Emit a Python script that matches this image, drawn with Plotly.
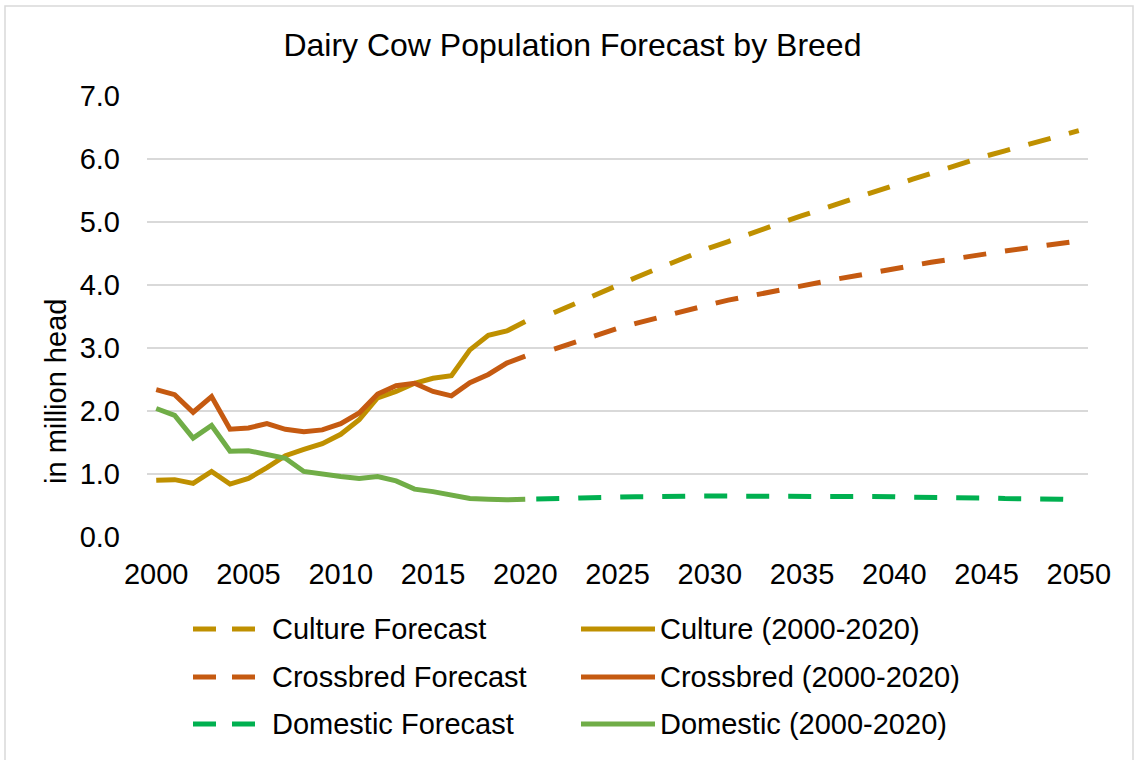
import plotly.graph_objects as go

# ---- data (million head) ----
hist_years = list(range(2000, 2021))
culture_hist = [0.90, 0.91, 0.85, 1.04, 0.84, 0.93, 1.10, 1.29, 1.39, 1.48, 1.63,
                1.86, 2.21, 2.31, 2.44, 2.52, 2.56, 2.97, 3.20, 3.27, 3.42]
crossbred_hist = [2.34, 2.26, 1.98, 2.23, 1.71, 1.73, 1.80, 1.71, 1.67, 1.70, 1.80,
                  1.97, 2.27, 2.40, 2.44, 2.31, 2.24, 2.45, 2.58, 2.76, 2.87]
domestic_hist = [2.04, 1.93, 1.57, 1.77, 1.36, 1.37, 1.31, 1.25, 1.04, 0.99, 0.96,
                 0.93, 0.96, 0.89, 0.76, 0.72, 0.66, 0.61, 0.60, 0.59, 0.60]

fc_years = list(range(2021, 2051))
culture_fc = [3.49, 3.62, 3.75, 3.88, 4.00, 4.12, 4.24, 4.36, 4.48, 4.59,
              4.69, 4.80, 4.90, 5.00, 5.10, 5.20, 5.30, 5.39, 5.49, 5.58,
              5.68, 5.77, 5.87, 5.96, 6.05, 6.13, 6.21, 6.29, 6.37, 6.45]
crossbred_fc = [2.93, 3.03, 3.12, 3.22, 3.31, 3.39, 3.47, 3.55, 3.62, 3.69,
                3.76, 3.82, 3.88, 3.93, 3.99, 4.05, 4.10, 4.15, 4.21, 4.26,
                4.31, 4.36, 4.41, 4.46, 4.50, 4.54, 4.58, 4.62, 4.66, 4.70]
domestic_fc_years = list(range(2020, 2051))
domestic_fc = [0.60, 0.60, 0.61, 0.62, 0.63, 0.63, 0.64, 0.64, 0.65, 0.65,
               0.65, 0.65, 0.65, 0.65, 0.65, 0.65, 0.65, 0.65, 0.64, 0.64,
               0.64, 0.63, 0.63, 0.63, 0.62, 0.62, 0.61, 0.61, 0.60, 0.60, 0.59]

x_ticks = list(range(2000, 2051, 5))
y_ticks = [0, 1, 2, 3, 4, 5, 6, 7]
y_tick_text = [f"{v:.1f}" for v in y_ticks]

TITLE = "Dairy Cow Population Forecast by Breed"
Y_TITLE = "in million head"

# ---- styling ----
FONT = "Liberation Sans, Arial, sans-serif"
GOLD = "#BF9000"
ORANGE = "#C55A11"
FC_GREEN = "#00B050"
HIST_GREEN = "#70AD47"
GRID = "#D9D9D9"
LW = 5
FC_DASH = "0px,11px,23px,8px"
FS = 29

W, H = 1138, 760
L, R, T, B = 147, 50, 96, 223
PW, PH = W - L - R, H - T - B


def px(x):
    return (x - L) / PW


def py(y):
    return (H - B - y) / PH


series = [
    ("Culture Forecast", fc_years, culture_fc, GOLD, FC_DASH),
    ("Culture (2000-2020)", hist_years, culture_hist, GOLD, "solid"),
    ("Crossbred Forecast", fc_years, crossbred_fc, ORANGE, FC_DASH),
    ("Crossbred (2000-2020)", hist_years, crossbred_hist, ORANGE, "solid"),
    ("Domestic Forecast", domestic_fc_years, domestic_fc, FC_GREEN, FC_DASH),
    ("Domestic (2000-2020)", hist_years, domestic_hist, HIST_GREEN, "solid"),
]

fig = go.Figure()
for name, xs, ys, color, dash in series:
    fig.add_trace(go.Scatter(
        x=xs, y=ys, name=name, mode="lines",
        line=dict(color=color, width=LW, dash=dash),
        showlegend=False,
    ))

shapes = []
annotations = []

# outer chart frame
shapes.append(dict(type="rect", xref="paper", yref="paper",
                   x0=px(5), x1=px(1133), y0=py(770), y1=py(6),
                   line=dict(color=GRID, width=1.5), fillcolor="rgba(0,0,0,0)",
                   layer="below"))

# two-column legend: forecasts on the left, history on the right
row_y = [629, 677, 724]
for i, (name, xs, ys, color, dash) in enumerate(series):
    row = i // 2
    col = i % 2
    yy = py(row_y[row])
    if col == 0:
        x0, x1, tx = 193, 255, 270
        ldash = "23px,16px"
    else:
        x0, x1, tx = 581, 655, 658
        ldash = "solid"
    shapes.append(dict(type="line", xref="paper", yref="paper",
                       x0=px(x0), x1=px(x1), y0=yy, y1=yy,
                       line=dict(color=color, width=LW, dash=ldash)))
    annotations.append(dict(xref="paper", yref="paper", x=px(tx), y=yy,
                            text=name, showarrow=False, xanchor="left",
                            yanchor="middle",
                            font=dict(family=FONT, size=FS, color="#000000")))

# y-axis title
annotations.append(dict(xref="paper", yref="paper", x=px(56), y=py(392),
                        text=Y_TITLE, textangle=-90, showarrow=False,
                        xanchor="center", yanchor="middle",
                        font=dict(family=FONT, size=FS, color="#000000")))

fig.update_layout(
    width=W, height=H,
    margin=dict(l=L, r=R, t=T, b=B),
    paper_bgcolor="white", plot_bgcolor="white",
    font=dict(family=FONT, size=FS, color="#000000"),
    title=dict(text=TITLE, x=0.503, xanchor="center", y=1 - 45 / H,
               yanchor="middle", xref="container",
               font=dict(family=FONT, size=32, color="#000000")),
    shapes=shapes,
    annotations=annotations,
    xaxis=dict(range=[1999.5, 2050.5], tickmode="array", tickvals=x_ticks,
               showgrid=False, zeroline=False, showline=False, ticks="",
               ticklabelstandoff=17,
               tickfont=dict(family=FONT, size=FS, color="#000000")),
    yaxis=dict(range=[0, 7], tickmode="array", tickvals=y_ticks,
               ticktext=y_tick_text, showgrid=True, gridcolor=GRID,
               gridwidth=2, zeroline=False, showline=False, ticks="",
               ticklabelstandoff=26,
               tickfont=dict(family=FONT, size=FS, color="#000000")),
)

fig.write_html("out.html")
